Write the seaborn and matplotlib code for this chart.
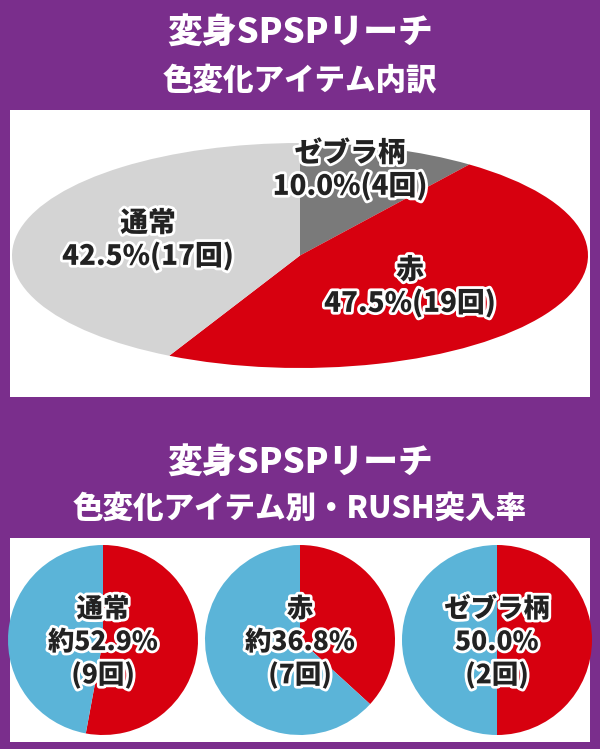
import matplotlib
matplotlib.use("Agg")
import matplotlib.pyplot as plt
import seaborn as sns
from matplotlib.patches import Rectangle
import matplotlib.patheffects as pe

sns.set_theme(style="white")
plt.rcParams['font.family'] = ['Noto Sans CJK JP', 'DejaVu Sans']

top_labels = ["ゼブラ柄", "赤", "通常"]
top_values = [10.0, 47.5, 42.5]
top_counts = [4, 19, 17]
top_colors = ["#7a7a7a", "#d7000f", "#d4d4d4"]

small_labels = ["通常", "赤", "ゼブラ柄"]
small_red = [52.9, 36.8, 50.0]
small_counts = [9, 7, 2]
small_prefix = ["約", "約", ""]

PURPLE = "#7a2e8c"
RED = "#d7000f"
BLUE = "#5bb4d8"

fig = plt.figure(figsize=(6, 7.49), dpi=100)
fig.patch.set_facecolor(PURPLE)
bg = fig.add_axes([0, 0, 1, 1])
bg.set_xlim(0, 600); bg.set_ylim(749, 0); bg.axis("off")
bg.add_patch(Rectangle((10, 110), 580, 287, facecolor="white", edgecolor="none"))
bg.add_patch(Rectangle((10, 538), 580, 204, facecolor="white", edgecolor="none"))

def fax(x0, y0, x1, y1):
    return fig.add_axes([x0/600, 1-y1/749, (x1-x0)/600, (y1-y0)/749])

ax = fax(12, 143, 588, 368)
ax.pie(top_values, colors=top_colors, startangle=90, counterclock=False,
       wedgeprops=dict(linewidth=0))
ax.set_aspect("auto"); ax.set_xlim(-1, 1); ax.set_ylim(-1, 1)

for cx, r in zip([103, 300, 497], small_red):
    a = fax(cx-95, 545, cx+95, 735)
    a.pie([r, 100-r], colors=[RED, BLUE], startangle=90, counterclock=False,
          wedgeprops=dict(linewidth=0))
    a.set_xlim(-1, 1); a.set_ylim(-1, 1)

ov = fig.add_axes([0, 0, 1, 1])
ov.set_xlim(0, 600); ov.set_ylim(749, 0); ov.axis("off"); ov.patch.set_alpha(0)

h1 = dict(color="white", fontsize=25, fontweight="heavy", ha="center", va="center")
h2 = dict(color="white", fontsize=22, fontweight="heavy", ha="center", va="center")
ov.text(300, 33, "変身SPSPリーチ", **h1)
ov.text(300, 80, "色変化アイテム内訳", **h2)
ov.text(300, 463, "変身SPSPリーチ", **h1)
ov.text(300, 508, "色変化アイテム別・RUSH突入率", **h2)

stroke = [pe.withStroke(linewidth=4, foreground="white")]
tkw = dict(fontsize=20, fontweight="heavy", ha="center", va="center", color="#222",
           path_effects=stroke, linespacing=1.2)
pos = [(350, 170), (410, 287), (148, 240)]
for (x, y), l, v, c in zip(pos, top_labels, top_values, top_counts):
    ov.text(x, y, f"{l}\n{v:.1f}%({c}回)", **tkw)

skw = dict(tkw, fontsize=19)
for cx, l, r, c, p in zip([103, 300, 497], small_labels, small_red, small_counts, small_prefix):
    ov.text(cx, 642, f"{l}\n{p}{r:.1f}%\n({c}回)", **skw)

fig.savefig("out.png", dpi=100, facecolor=PURPLE)
